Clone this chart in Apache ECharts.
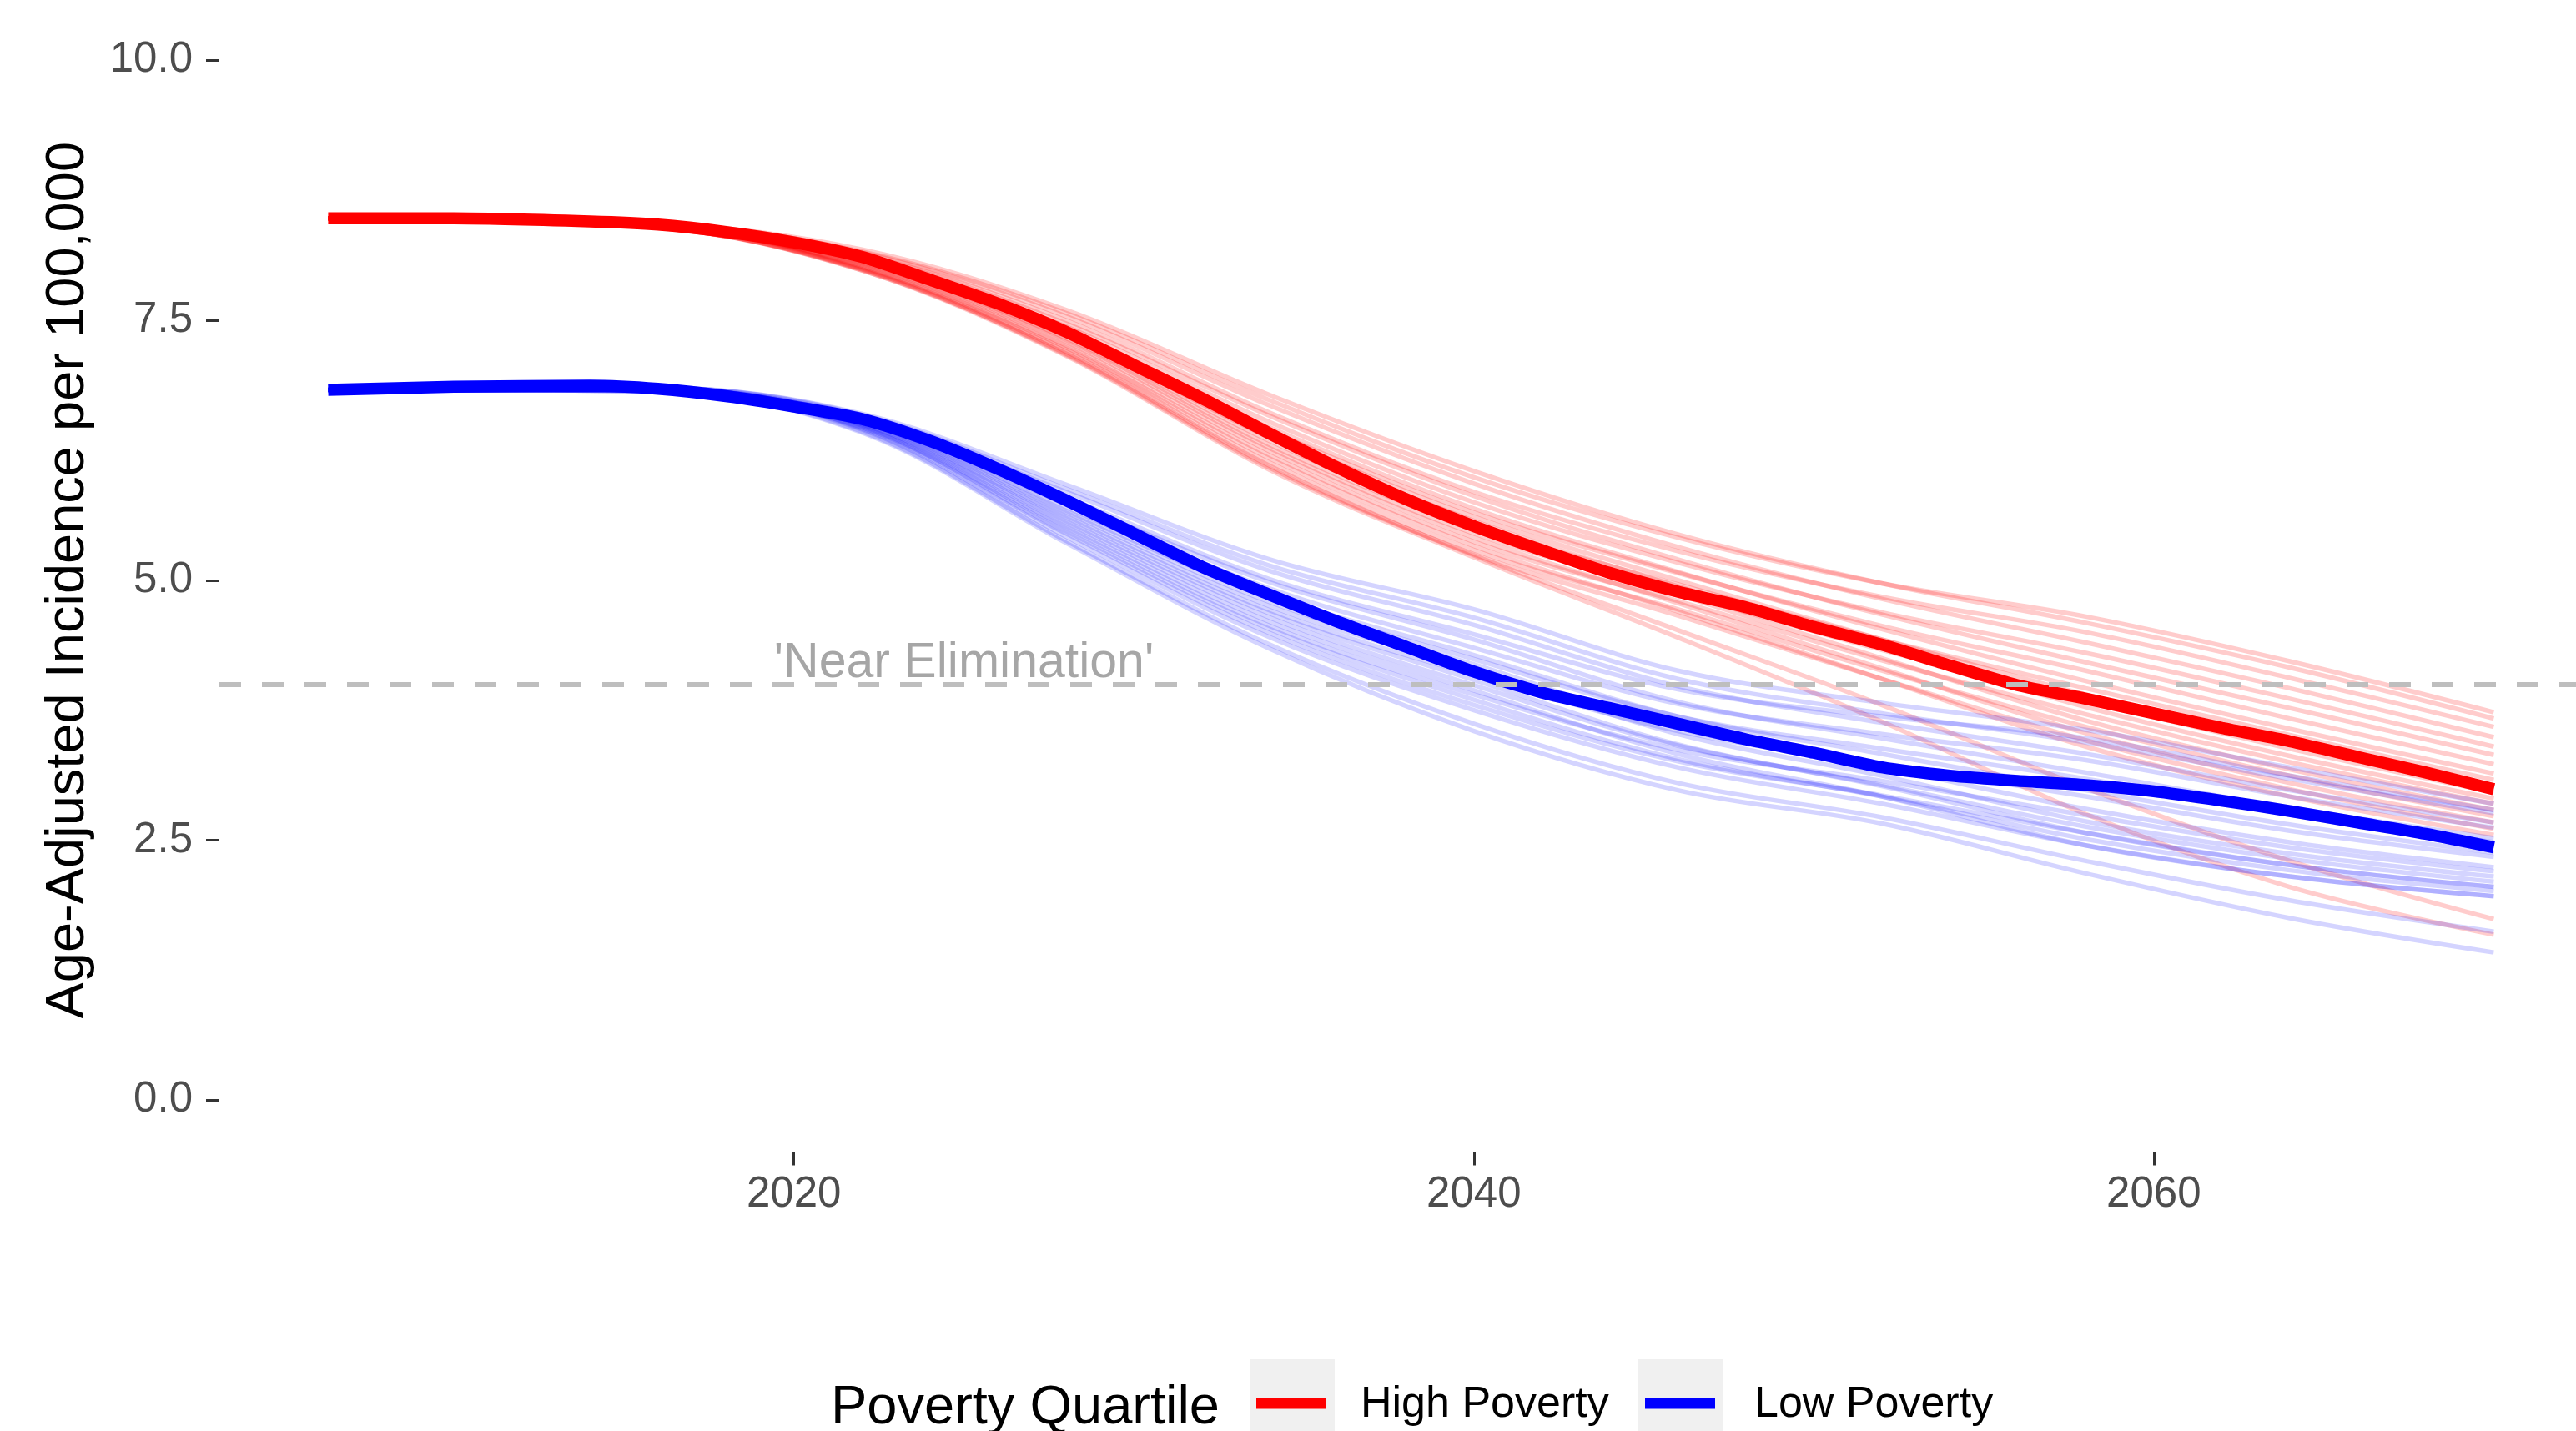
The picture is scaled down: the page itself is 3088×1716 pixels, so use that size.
<!DOCTYPE html>
<html>
<head>
<meta charset="utf-8">
<script src="https://cdn.jsdelivr.net/npm/echarts@6/dist/echarts.min.js"></script>
<style>
  html, body { margin: 0; padding: 0; background: #ffffff; }
  #chart { width: 3088px; height: 1716px; }
</style>
</head>
<body>
<div id="chart"></div>
<script>
// Projected age-adjusted incidence by poverty quartile (central projection + simulation runs)
const MAIN_YEARS = [2006.3, 2010, 2014, 2016, 2018, 2020, 2022, 2024, 2026, 2028, 2030, 2032, 2034, 2036,
  2038, 2040, 2042, 2044, 2046, 2048, 2050, 2052, 2054, 2056, 2058, 2060, 2062, 2064, 2066, 2068, 2070];
const HIGH_MAIN = [8.48, 8.48, 8.45, 8.42, 8.35, 8.25, 8.11, 7.89, 7.66, 7.39, 7.07, 6.75, 6.41, 6.08,
  5.78, 5.52, 5.29, 5.07, 4.89, 4.74, 4.55, 4.38, 4.18, 3.99, 3.86, 3.72, 3.58, 3.45, 3.30, 3.15, 2.99];
const LOW_MAIN = [6.83, 6.86, 6.87, 6.84, 6.77, 6.67, 6.55, 6.34, 6.07, 5.77, 5.45, 5.13, 4.86, 4.60,
  4.36, 4.12, 3.92, 3.77, 3.62, 3.47, 3.34, 3.20, 3.12, 3.07, 3.03, 2.97, 2.88, 2.78, 2.67, 2.56, 2.43];

const SIM_YEARS = [2006.3, 2016, 2022, 2028, 2034, 2040, 2046, 2052, 2058, 2064, 2070];
const HIGH_SIMS = [
  [8.48, 8.43, 8.18, 7.60, 6.78, 6.05, 5.44, 4.97, 4.59, 4.16, 3.67],
  [8.48, 8.43, 8.16, 7.57, 6.73, 5.99, 5.41, 4.97, 4.65, 4.22, 3.73],
  [8.48, 8.42, 8.15, 7.54, 6.68, 5.93, 5.32, 4.82, 4.40, 3.96, 3.49],
  [8.48, 8.42, 8.13, 7.50, 6.61, 5.85, 5.28, 4.84, 4.50, 4.06, 3.59],
  [8.48, 8.42, 8.12, 7.47, 6.58, 5.81, 5.20, 4.67, 4.21, 3.77, 3.32],
  [8.48, 8.41, 8.10, 7.44, 6.52, 5.75, 5.17, 4.69, 4.30, 3.86, 3.40],
  [8.48, 8.41, 8.09, 7.41, 6.47, 5.69, 5.08, 4.53, 4.03, 3.57, 3.14],
  [8.48, 8.41, 8.08, 7.39, 6.44, 5.65, 5.07, 4.56, 4.13, 3.67, 3.23],
  [8.48, 8.41, 8.07, 7.37, 6.41, 5.61, 5.00, 4.43, 3.90, 3.44, 3.02],
  [8.48, 8.41, 8.06, 7.35, 6.37, 5.57, 4.94, 4.35, 3.78, 3.31, 2.90],
  [8.48, 8.40, 8.05, 7.33, 6.34, 5.53, 4.96, 4.43, 3.96, 3.51, 3.08],
  [8.48, 8.40, 8.04, 7.31, 6.30, 5.49, 4.86, 4.25, 3.65, 3.18, 2.79],
  [8.48, 8.40, 8.03, 7.29, 6.27, 5.45, 4.88, 4.33, 3.84, 3.38, 2.96],
  [8.48, 8.40, 8.02, 7.26, 6.24, 5.41, 4.78, 4.15, 3.53, 3.05, 2.67],
  [8.48, 8.40, 8.01, 7.24, 6.20, 5.37, 4.80, 4.23, 3.71, 3.25, 2.85],
  [8.48, 8.39, 8.00, 7.22, 6.17, 5.33, 4.70, 4.05, 3.40, 2.92, 2.55],
  [8.48, 8.39, 7.99, 7.20, 6.13, 5.29, 4.72, 4.13, 3.59, 3.12, 2.73],
  [8.48, 8.39, 7.98, 7.18, 6.10, 5.25, 4.66, 4.05, 3.46, 2.99, 2.61],
  [8.48, 8.39, 7.99, 7.17, 6.08, 5.24, 4.52, 3.80, 3.00, 2.30, 1.74],
  [8.48, 8.39, 7.98, 7.16, 6.06, 5.22, 4.45, 3.64, 2.75, 2.05, 1.59]
];
const LOW_SIMS = [
  [6.83, 6.85, 6.60, 5.92, 5.20, 4.72, 4.13, 3.82, 3.56, 3.20, 2.85],
  [6.83, 6.85, 6.59, 5.88, 5.14, 4.64, 4.05, 3.72, 3.44, 3.09, 2.76],
  [6.83, 6.85, 6.58, 5.85, 5.09, 4.57, 3.98, 3.63, 3.33, 2.98, 2.67],
  [6.83, 6.84, 6.56, 5.80, 5.01, 4.48, 3.95, 3.69, 3.48, 3.12, 2.79],
  [6.83, 6.84, 6.56, 5.77, 4.98, 4.43, 3.83, 3.48, 3.15, 2.81, 2.52],
  [6.83, 6.84, 6.54, 5.73, 4.92, 4.35, 3.81, 3.52, 3.27, 2.92, 2.62],
  [6.83, 6.84, 6.53, 5.70, 4.86, 4.28, 3.69, 3.33, 2.98, 2.65, 2.38],
  [6.83, 6.84, 6.53, 5.67, 4.83, 4.24, 3.69, 3.38, 3.09, 2.76, 2.48],
  [6.83, 6.83, 6.52, 5.65, 4.79, 4.19, 3.58, 3.20, 2.80, 2.48, 2.24],
  [6.83, 6.83, 6.51, 5.62, 4.75, 4.14, 3.52, 3.12, 2.68, 2.37, 2.15],
  [6.83, 6.83, 6.50, 5.60, 4.71, 4.09, 3.55, 3.23, 2.92, 2.59, 2.34],
  [6.83, 6.83, 6.50, 5.57, 4.68, 4.04, 3.42, 3.02, 2.57, 2.26, 2.05],
  [6.83, 6.83, 6.49, 5.55, 4.64, 3.99, 3.41, 3.03, 2.63, 2.32, 2.10],
  [6.83, 6.83, 6.48, 5.52, 4.60, 3.94, 3.33, 2.92, 2.45, 2.15, 1.96],
  [6.83, 6.82, 6.47, 5.50, 4.56, 3.90, 3.37, 3.07, 2.74, 2.43, 2.20],
  [6.83, 6.82, 6.47, 5.47, 4.53, 3.85, 3.28, 2.92, 2.51, 2.21, 2.01],
  [6.83, 6.82, 6.46, 5.45, 4.49, 3.80, 3.26, 2.93, 2.57, 2.26, 2.05],
  [6.83, 6.82, 6.45, 5.42, 4.45, 3.75, 3.20, 2.85, 2.45, 2.15, 1.96],
  [6.83, 6.82, 6.43, 5.38, 4.38, 3.62, 3.05, 2.72, 2.30, 1.92, 1.62],
  [6.83, 6.82, 6.42, 5.36, 4.34, 3.55, 2.98, 2.66, 2.18, 1.75, 1.42]
];

const X_TICKS = [2020, 2040, 2060];
const Y_TICKS = [0, 2.5, 5, 7.5, 10];
const THRESHOLD = 4;
const THRESHOLD_LABEL = "'Near Elimination'";
const THRESHOLD_LABEL_AT = [2025, 4.2];

const GROUPS = ['High Poverty', 'Low Poverty'];
const COLORS = { 'High Poverty': '#ff0000', 'Low Poverty': '#0000ff' };
const LEGEND_TITLE = 'Poverty Quartile';
const Y_TITLE = 'Age-Adjusted Incidence per 100,000';

const FONT = '"Liberation Sans", Arial, Helvetica, sans-serif';

const pairs = (xs, ys) => xs.map((x, i) => [x, ys[i]]);

function simSeries(list, color, opacity) {
  return list.map(vals => ({
    type: 'line',
    data: pairs(SIM_YEARS, vals),
    smooth: 0.35,
    showSymbol: false,
    silent: true,
    z: 1,
    lineStyle: { color: color, width: 5.5, opacity: opacity }
  }));
}

const series = [
  ...simSeries(HIGH_SIMS, COLORS['High Poverty'], 0.2),
  ...simSeries(LOW_SIMS, COLORS['Low Poverty'], 0.17),
  {
    name: 'High Poverty', type: 'line', data: pairs(MAIN_YEARS, HIGH_MAIN),
    smooth: 0.25, showSymbol: false, silent: true, z: 3,
    lineStyle: { color: COLORS['High Poverty'], width: 14.5 }
  },
  {
    name: 'Low Poverty', type: 'line', data: pairs(MAIN_YEARS, LOW_MAIN),
    smooth: 0.25, showSymbol: false, silent: true, z: 3,
    lineStyle: { color: COLORS['Low Poverty'], width: 14.5 }
  },
  {
    type: 'line', data: [], silent: true, z: 4,
    markLine: {
      silent: true, symbol: ['none', 'none'], animation: false,
      label: { show: false },
      lineStyle: { type: [26, 25], color: '#bebebe', width: 6 },
      data: [{ yAxis: THRESHOLD }]
    },
    markPoint: {
      silent: true, symbol: 'circle', symbolSize: 0, animation: false,
      label: {
        show: true, position: 'inside', formatter: THRESHOLD_LABEL,
        fontSize: 59, color: '#a6a6a6', fontFamily: FONT
      },
      data: [{ coord: THRESHOLD_LABEL_AT }]
    }
  }
];

// Legend drawn as ggplot-style keys (grey key background with a line swatch)
const legendGraphics = [
  { type: 'text', style: { x: 996, y: 1689, text: LEGEND_TITLE, font: '65px ' + FONT, fill: '#000000', verticalAlign: 'middle', align: 'left' } }
];
const keyLeft = [1498, 1964];
const labelLeft = [1631, 2103];
GROUPS.forEach((g, i) => {
  legendGraphics.push(
    { type: 'rect', shape: { x: keyLeft[i], y: 1630, width: 102, height: 120 }, style: { fill: '#f0f0f0' } },
    { type: 'line', shape: { x1: keyLeft[i] + 8, y1: 1683, x2: keyLeft[i] + 92, y2: 1683 }, style: { stroke: COLORS[g], lineWidth: 13 } },
    { type: 'text', style: { x: labelLeft[i], y: 1685, text: g, font: '52px ' + FONT, fill: '#000000', verticalAlign: 'middle', align: 'left' } }
  );
});

const chart = echarts.init(document.getElementById('chart'), null, { renderer: 'canvas' });
chart.setOption({
  animation: false,
  backgroundColor: '#ffffff',
  grid: { left: 263, right: 0, top: 10, bottom: 334.5, containLabel: false, outerBoundsMode: 'none' },
  xAxis: {
    type: 'value', min: 2003.1, max: 2072.42,
    axisLine: { show: false, onZero: false },
    splitLine: { show: false },
    axisTick: { show: true, length: 16, lineStyle: { color: '#333333', width: 3 }, customValues: X_TICKS },
    axisLabel: { customValues: X_TICKS, margin: 26, fontSize: 51, color: '#4d4d4d', fontFamily: FONT, formatter: v => String(v) }
  },
  yAxis: {
    type: 'value', min: -0.5, max: 10.5,
    name: Y_TITLE, nameLocation: 'middle', nameRotate: 90, nameGap: 148,
    nameTextStyle: { fontSize: 65, color: '#000000', fontFamily: FONT },
    axisLine: { show: false, onZero: false },
    splitLine: { show: false },
    axisTick: { show: true, length: 16, lineStyle: { color: '#333333', width: 3 }, customValues: Y_TICKS },
    axisLabel: { customValues: Y_TICKS, margin: 32, fontSize: 51, color: '#4d4d4d', fontFamily: FONT, formatter: v => v.toFixed(1) }
  },
  series: series,
  graphic: legendGraphics
});
</script>
</body>
</html>
